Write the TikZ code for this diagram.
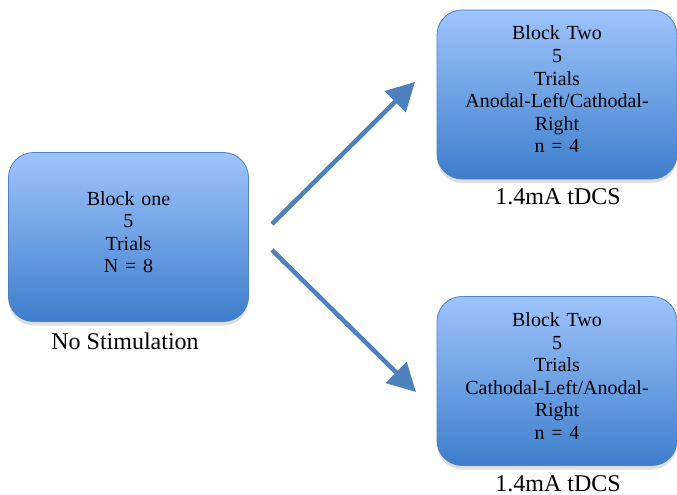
\documentclass[tikz,border=0pt]{standalone}
\usepackage{fontspec}
\setmainfont{Liberation Serif}
\usetikzlibrary{arrows.meta,shadows}
\definecolor{boxtop}{RGB}{158,196,252}
\definecolor{boxbot}{RGB}{62,126,204}
\definecolor{boxline}{RGB}{78,128,196}
\definecolor{arrowblue}{RGB}{79,129,189}
\newcommand{\lift}{\rule[-10pt]{0pt}{10pt}}
\tikzset{
  block/.style={draw=boxline, line width=0.8pt, rounded corners=25pt,
    top color=boxtop, bottom color=boxbot, minimum width=240pt,
    minimum height=169pt, text width=225pt, align=center,
    font=\fontsize{20}{22.6}\selectfont,
    drop shadow={opacity=0.25, shadow xshift=0pt, shadow yshift=-4pt}},
  caption/.style={font=\fontsize{24}{28}\selectfont},
  flow/.style={draw=arrowblue, line width=4.5pt,
    -{Triangle[length=28pt,width=29pt]}}
}
\begin{document}
\begin{tikzpicture}[x=1pt,y=-1pt]
    \useasboundingbox (0,0) rectangle (677,495);
    % blocks
    \node[block] (one) at (128.5,237) {Block one\\5\\Trials\\N = 8\lift};
    \node[block] (twoa) at (557,94.5) {Block Two\\5\\Trials\\Anodal-Left/Cathodal-\\Right\\n = 4\lift};
    \node[block] (twob) at (557,381) {Block Two\\5\\Trials\\Cathodal-Left/Anodal-\\Right\\n = 4\lift};
    % captions
    \node[caption] (nostim) at (125,341) {No Stimulation};
    \node[caption] (tdcsa) at (558,197) {1.4mA tDCS};
    \node[caption] (tdcsb) at (558,484) {1.4mA tDCS};
    % arrows
    \coordinate (upstart) at (272,224);
    \coordinate (upend) at (415,82);
    \coordinate (downstart) at (272,250);
    \coordinate (downend) at (416,392);
    \draw[flow] (upstart) -- (upend);
    \draw[flow] (downstart) -- (downend);
\end{tikzpicture}
\end{document}
